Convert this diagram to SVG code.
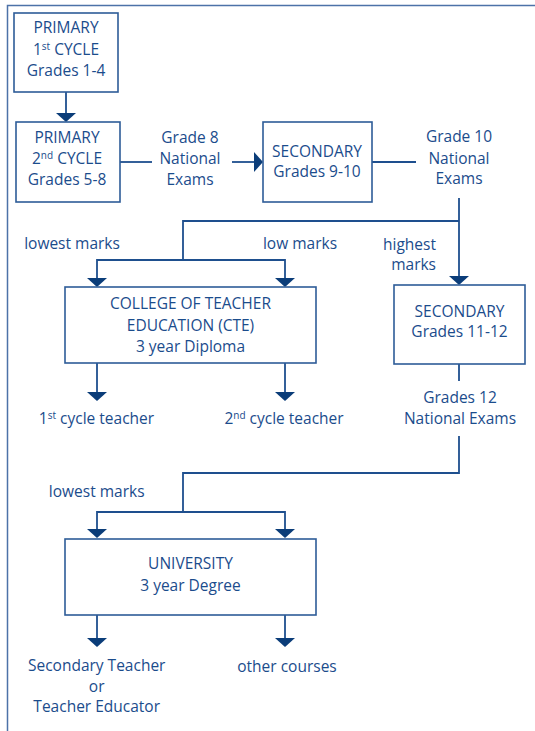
<svg xmlns="http://www.w3.org/2000/svg" width="535" height="731" viewBox="0 0 535 731">
<style>
.box{fill:#fff;stroke:#2d5c98;stroke-width:1.6}
.ln{fill:none;stroke:#1e4f8e;stroke-width:1.8}
.ah{fill:#0b3d79}
text{font-family:"Open Sans","Noto Sans","Liberation Sans",sans-serif;font-size:15.5px;fill:#1b4c8c;text-anchor:middle}
.sup{font-size:10px}
.end{text-anchor:end}
</style>
<rect width="535" height="731" fill="#fff"/>
<path d="M7.5,731 V5.5 H535" fill="none" stroke="#4d72a8" stroke-width="1.5"/>
<g id="connectors">
<line class="ln" x1="66" y1="92" x2="66" y2="114"/>
<polygon class="ah" points="56,113 76,113 66,122"/>
<line class="ln" x1="120" y1="162" x2="152" y2="162"/>
<line class="ln" x1="232" y1="162" x2="255" y2="162"/>
<polygon class="ah" points="254,152 254,172 263,162"/>
<line class="ln" x1="372" y1="162" x2="416" y2="162"/>
<path class="ln" d="M459,198 V277"/>
<polygon class="ah" points="449,276 469,276 459,285"/>
<path class="ln" d="M459,221 H183 V260"/>
<path class="ln" d="M97,279 V260 H285 V279"/>
<polygon class="ah" points="87,278 107,278 97,287"/>
<polygon class="ah" points="275,278 295,278 285,287"/>
<path class="ln" d="M97,363 V393"/>
<path class="ln" d="M285,363 V393"/>
<polygon class="ah" points="87,392 107,392 97,401"/>
<polygon class="ah" points="275,392 295,392 285,401"/>
<path class="ln" d="M459,364 V381"/>
<path class="ln" d="M459,436 V473 H183 V512"/>
<path class="ln" d="M97,530 V512 H285 V530"/>
<polygon class="ah" points="87,529 107,529 97,538"/>
<polygon class="ah" points="275,529 295,529 285,538"/>
<path class="ln" d="M97,615 V639"/>
<path class="ln" d="M285,615 V639"/>
<polygon class="ah" points="87,638 107,638 97,647"/>
<polygon class="ah" points="275,638 295,638 285,647"/>
</g>
<g id="primary1">
<rect class="box" x="14" y="13" width="104" height="79"/>
<text x="66" y="33">PRIMARY</text>
<text x="66" y="55">1<tspan class="sup" dy="-5">st</tspan><tspan dy="5"> CYCLE</tspan></text>
<text x="66" y="76">Grades 1-4</text>
</g>
<g id="primary2">
<rect class="box" x="16" y="122" width="104" height="80"/>
<text x="67" y="143">PRIMARY</text>
<text x="67" y="164">2<tspan class="sup" dy="-5">nd</tspan><tspan dy="5"> CYCLE</tspan></text>
<text x="67" y="185">Grades 5-8</text>
</g>
<g id="grade8">
<text x="190" y="143">Grade 8</text>
<text x="190" y="164">National</text>
<text x="190" y="185">Exams</text>
</g>
<g id="secondary1">
<rect class="box" x="263" y="122" width="109" height="80"/>
<text x="317" y="157">SECONDARY</text>
<text x="317" y="177">Grades 9-10</text>
</g>
<g id="grade10">
<text x="459" y="142">Grade 10</text>
<text x="459" y="164">National</text>
<text x="459" y="184">Exams</text>
</g>
<g id="labels1">
<text x="72" y="249">lowest marks</text>
<text x="300" y="249">low marks</text>
<text class="end" x="436" y="250">highest</text>
<text class="end" x="436" y="270">marks</text>
</g>
<g id="cte">
<rect class="box" x="65" y="287" width="251" height="76"/>
<text x="190.5" y="309">COLLEGE OF TEACHER</text>
<text x="190.5" y="330.5">EDUCATION (CTE)</text>
<text x="190.5" y="351.5">3 year Diploma</text>
</g>
<g id="teacher1">
<text x="96.5" y="424">1<tspan class="sup" dy="-5">st</tspan><tspan dy="5"> cycle teacher</tspan></text>
</g>
<g id="teacher2">
<text x="284" y="424">2<tspan class="sup" dy="-5">nd</tspan><tspan dy="5"> cycle teacher</tspan></text>
</g>
<g id="secondary2">
<rect class="box" x="394" y="285" width="131" height="79"/>
<text x="459.5" y="317">SECONDARY</text>
<text x="459.5" y="337">Grades 11-12</text>
</g>
<g id="grade12">
<text x="460" y="403">Grades 12</text>
<text x="460" y="424">National Exams</text>
</g>
<g id="labels2">
<text x="96.7" y="497">lowest marks</text>
</g>
<g id="university">
<rect class="box" x="65" y="539" width="251" height="76"/>
<text x="190.5" y="569">UNIVERSITY</text>
<text x="190.5" y="591">3 year Degree</text>
</g>
<g id="secteacher">
<text x="96.7" y="671">Secondary Teacher</text>
<text x="96.7" y="692">or</text>
<text x="96.7" y="712">Teacher Educator</text>
</g>
<g id="other">
<text x="287" y="672">other courses</text>
</g>
</svg>
